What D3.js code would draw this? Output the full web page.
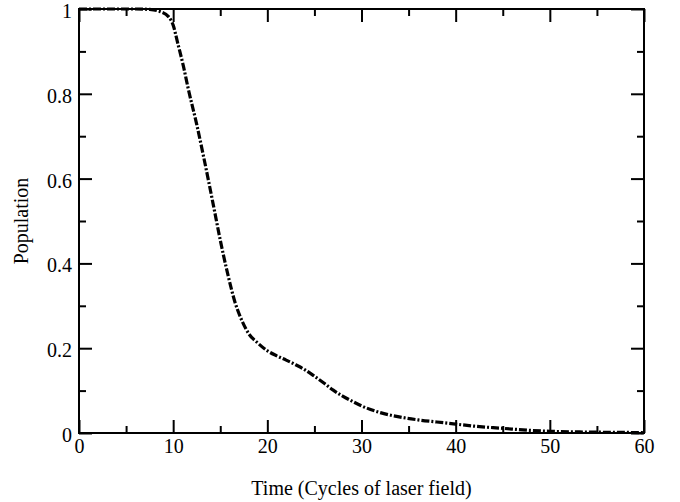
<!DOCTYPE html>
<html>
<head>
<meta charset="utf-8">
<script src="https://cdn.jsdelivr.net/npm/d3@7"></script>
<style>
    body { margin: 0; background: #fff; }
    svg { display: block; }
    text { font-family: "Liberation Serif", "Times New Roman", serif; fill: #000; }
</style>
</head>
<body>
<svg id="chart" width="680" height="502"></svg>
<script>
// population vs time
const times = [0, 2, 4, 6, 7.5, 8.6, 9.5, 10, 10.5, 11.1, 11.6, 12.5, 13.2, 14.3, 15, 15.7, 16.6, 17.3, 18, 19, 20, 21, 22, 23, 24, 25, 26, 27, 28, 29, 30, 32, 34, 36, 38, 40, 42, 45, 48, 50, 55, 60];
const population = [1.0, 1.0, 1.0, 1.0, 0.999, 0.994, 0.982, 0.962, 0.918, 0.864, 0.812, 0.728, 0.655, 0.534, 0.455, 0.384, 0.306, 0.265, 0.235, 0.212, 0.194, 0.182, 0.172, 0.161, 0.149, 0.134, 0.118, 0.101, 0.087, 0.075, 0.064, 0.048, 0.038, 0.031, 0.026, 0.021, 0.016, 0.011, 0.006, 0.004, 0.002, 0.001];

const xMajor = [0, 10, 20, 30, 40, 50, 60];
const xMinor = [5, 15, 25, 35, 45, 55];
const yMajor = [0, 0.2, 0.4, 0.6, 0.8, 1];
const yMinor = [0.1, 0.3, 0.5, 0.7, 0.9];

const svg = d3.select('#chart');
const width = +svg.attr('width');
const height = +svg.attr('height');
const margin = { top: 9, right: 36, bottom: 69, left: 79 };
const fontSize = 20;

const x = d3.scaleLinear().domain([0, 60]).range([margin.left, width - margin.right]);
const y = d3.scaleLinear().domain([0, 1]).range([height - margin.bottom, margin.top]);

const fmt = d3.format('~g');

function styleAxis(g) {
    g.select('.domain').remove();
    g.selectAll('line').attr('stroke', '#000').attr('stroke-width', 2);
    g.selectAll('text').attr('font-size', fontSize).attr('font-family', '"Liberation Serif", serif');
}

// bottom
svg.append('g')
    .attr('transform', `translate(0,${y(0)})`)
    .call(d3.axisBottom(x).tickValues(xMajor).tickFormat(fmt).tickSizeInner(-13).tickSizeOuter(0).tickPadding(6))
    .call(styleAxis);
svg.append('g')
    .attr('transform', `translate(0,${y(0)})`)
    .call(d3.axisBottom(x).tickValues(xMinor).tickFormat('').tickSizeInner(-7).tickSizeOuter(0))
    .call(styleAxis);

// top
svg.append('g')
    .attr('transform', `translate(0,${y(1)})`)
    .call(d3.axisTop(x).tickValues(xMajor).tickFormat('').tickSizeInner(-13).tickSizeOuter(0))
    .call(styleAxis);
svg.append('g')
    .attr('transform', `translate(0,${y(1)})`)
    .call(d3.axisTop(x).tickValues(xMinor).tickFormat('').tickSizeInner(-7).tickSizeOuter(0))
    .call(styleAxis);

// left
svg.append('g')
    .attr('transform', `translate(${x(0)},0)`)
    .call(d3.axisLeft(y).tickValues(yMajor).tickFormat(fmt).tickSizeInner(-13).tickSizeOuter(0).tickPadding(7))
    .call(styleAxis)
    .call(g => g.selectAll('text').attr('dy', '0.42em'));
svg.append('g')
    .attr('transform', `translate(${x(0)},0)`)
    .call(d3.axisLeft(y).tickValues(yMinor).tickFormat('').tickSizeInner(-7).tickSizeOuter(0))
    .call(styleAxis);

// right
svg.append('g')
    .attr('transform', `translate(${x(60)},0)`)
    .call(d3.axisRight(y).tickValues(yMajor).tickFormat('').tickSizeInner(-13).tickSizeOuter(0))
    .call(styleAxis);
svg.append('g')
    .attr('transform', `translate(${x(60)},0)`)
    .call(d3.axisRight(y).tickValues(yMinor).tickFormat('').tickSizeInner(-7).tickSizeOuter(0))
    .call(styleAxis);

// frame
svg.append('rect')
    .attr('x', x(0))
    .attr('y', y(1))
    .attr('width', x(60) - x(0))
    .attr('height', y(0) - y(1))
    .attr('fill', 'none')
    .attr('stroke', '#000')
    .attr('stroke-width', 2);

// curve
const points = times.map((t, i) => [t, population[i]]);
const line = d3.line()
    .x(d => x(d[0]))
    .y(d => y(d[1]))
    .curve(d3.curveMonotoneX);

svg.append('path')
    .datum(points)
    .attr('d', line)
    .attr('fill', 'none')
    .attr('stroke', '#000')
    .attr('stroke-width', 3.2)
    .attr('stroke-dasharray', '8,2,2,2');

// axis titles
svg.append('text')
    .attr('x', (x(0) + x(60)) / 2)
    .attr('y', 495)
    .attr('text-anchor', 'middle')
    .attr('font-size', fontSize)
    .text('Time (Cycles of laser field)');

svg.append('text')
    .attr('transform', `translate(28,${(y(0) + y(1)) / 2}) rotate(-90)`)
    .attr('text-anchor', 'middle')
    .attr('font-size', fontSize)
    .text('Population');
</script>
</body>
</html>
